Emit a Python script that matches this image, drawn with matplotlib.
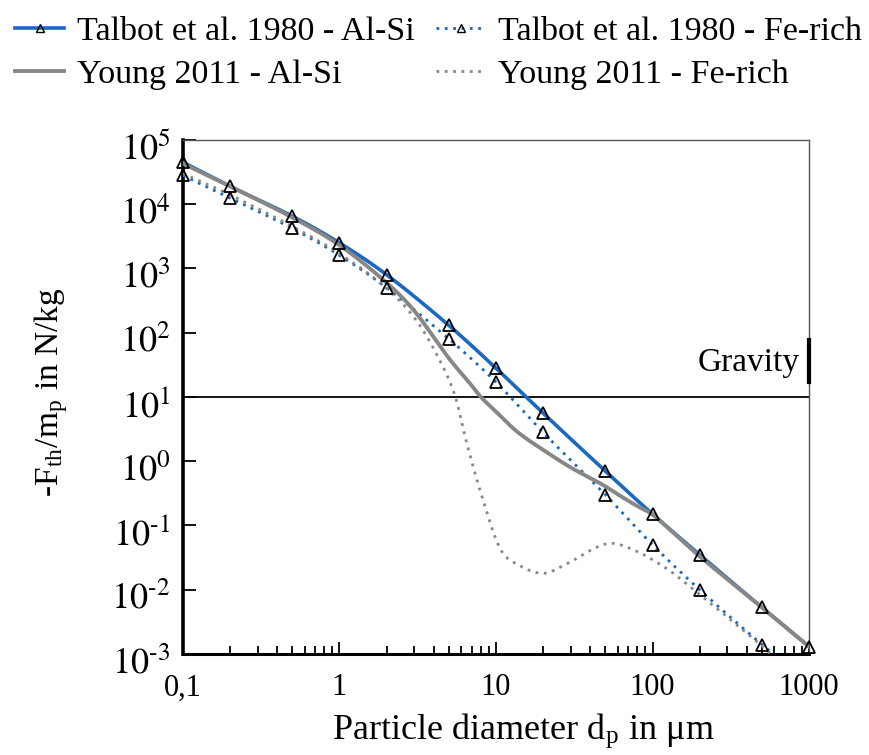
import numpy as np
import matplotlib
matplotlib.use("Agg")
import matplotlib.pyplot as plt
from matplotlib.ticker import FixedLocator, FixedFormatter, LogLocator, NullFormatter
from matplotlib.transforms import ScaledTranslation

plt.rcParams['font.family'] = ['Liberation Serif', 'DejaVu Serif']
plt.rcParams['mathtext.fontset'] = 'stix'

# Talbot et al. 1980 (markers)
d_talbot = [0.1, 0.2, 0.5, 1, 2, 5, 10, 20, 50, 100, 200, 500, 1000]
talbot_alsi = [4.5e4, 1.9e4, 6.5e3, 2.5e3, 8.0e2, 1.3e2, 28, 5.6, 0.70, 0.15, 0.035, 5.3e-3, 1.3e-3]
talbot_fe = [2.8e4, 1.25e4, 4.2e3, 1.6e3, 5.0e2, 80, 17, 2.8, 0.30, 0.05, 0.010, 1.4e-3, 3.5e-4]

# Young 2011 (curves)
d_young_alsi = [0.1, 0.2, 0.5, 1, 2, 3, 5, 7, 8, 10, 13.6, 20, 30, 48, 65, 80, 100, 140, 200, 500, 1000]
young_alsi = [4.3e4, 1.9e4, 6.2e3, 2.3e3, 6.0e2, 2.2e2, 40, 15, 10, 5.9, 2.9, 1.5, 0.8, 0.43, 0.27,
              0.2, 0.148, 0.072, 0.033, 5.3e-3, 1.3e-3]

d_young_fe = [0.1, 0.2, 0.5, 1, 2, 3.1, 4.4, 5.5, 6.5, 8.3, 10.6, 13.6, 20, 28, 51, 75,
              124, 200, 325, 535, 1000]
young_fe = [3.0e4, 1.4e4, 4.5e3, 1.7e3, 4.9e2, 1.55e2, 36, 10, 1.9, 0.24, 0.044, 0.025, 0.018, 0.025, 0.052, 0.042,
            0.021, 8.4e-3, 3.2e-3, 1.15e-3, 2.5e-4]

x_ticks = [0.1, 1, 10, 100, 1000]
x_ticklabels = ['0,1', '1', '10', '100', '1000']
y_ticks = [1e-3, 1e-2, 1e-1, 1e0, 1e1, 1e2, 1e3, 1e4, 1e5]
y_ticklabels = [r'$10^{\text{-}3}$', r'$10^{\text{-}2}$', r'$10^{\text{-}1}$', r'$10^{0}$', r'$10^{1}$',
                r'$10^{2}$', r'$10^{3}$', r'$10^{4}$', r'$10^{5}$']

blue = '#1a68c2'
grey = '#878787'


def smooth(xs, ys, n=500):
    # Catmull-Rom style cubic through the read points, in log-log space
    lx = np.log10(xs)
    ly = np.log10(ys)
    grid = np.linspace(lx[0], lx[-1], n)
    out = []
    for g in grid:
        i = np.searchsorted(lx, g) - 1
        i = min(max(i, 0), len(lx) - 2)
        x1, x2 = lx[i], lx[i + 1]
        p1, p2 = ly[i], ly[i + 1]
        x0 = lx[i - 1] if i > 0 else 2 * x1 - x2
        p0 = ly[i - 1] if i > 0 else 2 * p1 - p2
        x3 = lx[i + 2] if i + 2 < len(lx) else 2 * x2 - x1
        p3 = ly[i + 2] if i + 2 < len(ly) else 2 * p2 - p1
        t = (g - x1) / (x2 - x1)
        m1 = (p2 - p0) / (x2 - x0) * (x2 - x1)
        m2 = (p3 - p1) / (x3 - x1) * (x2 - x1)
        out.append((2 * t**3 - 3 * t**2 + 1) * p1 + (t**3 - 2 * t**2 + t) * m1
                   + (-2 * t**3 + 3 * t**2) * p2 + (t**3 - t**2) * m2)
    return 10**grid, 10**np.array(out)


fig = plt.figure(figsize=(8.7, 7.55), dpi=100)
ax = fig.add_axes([0.2103, 0.1338, 0.7197, 0.6808])

tx, ty = smooth(d_talbot, talbot_alsi)
ex, ey = smooth(d_talbot, talbot_fe)
yx, yy = smooth(d_young_alsi, young_alsi)
fx, fy = smooth(d_young_fe, young_fe)

ax.axhline(10, color='black', lw=1.3, zorder=1)

ax.plot(tx, ty, color=blue, lw=2.6, zorder=3)
ax.plot(ex, ey, color=blue, lw=2.0, ls=(0, (1, 2)), zorder=3)
ax.plot(yx, yy, color=grey, lw=2.8, zorder=4)
ax.plot(fx, fy, color=grey, lw=2.0, ls=(0, (1, 2)), zorder=4)

ax.plot(d_talbot, talbot_alsi, ls='none', marker='^', ms=9, mfc='none', mec='black', mew=1.3,
        zorder=5, clip_on=False)
ax.plot(d_talbot[:-1], talbot_fe[:-1], ls='none', marker='^', ms=9, mfc='none', mec='black', mew=1.3,
        zorder=5, clip_on=False)

ax.set_xscale('log')
ax.set_yscale('log')
ax.set_xlim(0.1, 1000)
ax.set_ylim(1e-3, 1e5)

ax.xaxis.set_major_locator(FixedLocator(x_ticks))
ax.xaxis.set_major_formatter(FixedFormatter(x_ticklabels))
ax.xaxis.set_minor_locator(LogLocator(base=10, subs=np.arange(2, 10)))
ax.xaxis.set_minor_formatter(NullFormatter())
ax.yaxis.set_major_locator(FixedLocator(y_ticks))
ax.yaxis.set_major_formatter(FixedFormatter(y_ticklabels))
ax.yaxis.set_minor_locator(LogLocator(base=10, subs=np.arange(2, 10)))
ax.yaxis.set_minor_formatter(NullFormatter())

ax.tick_params(which='both', direction='in', top=False, right=False, width=1.3)
ax.tick_params(which='major', length=9)
ax.tick_params(which='minor', length=6)
ax.tick_params(axis='x', labelsize=22, pad=14)
ax.tick_params(axis='y', labelsize=26, pad=9)

# y tick labels sit a little below their ticks in the reference
shift = ScaledTranslation(0, -6 / 100, fig.dpi_scale_trans)
for lab in ax.get_yticklabels():
    lab.set_transform(lab.get_transform() + shift)

ax.spines['left'].set_linewidth(2.6)
ax.spines['bottom'].set_linewidth(2.2)
for side in ['top', 'right']:
    ax.spines[side].set_linewidth(1.0)
    ax.spines[side].set_color('#555555')

ax.set_xlabel(r'Particle diameter d$_\mathregular{p}$ in $\mathregular{\mu}$m', fontsize=26, labelpad=0)
ax.xaxis.set_label_coords(0.543, -0.112)
ax.set_ylabel(r'-F$_\mathregular{th}$/m$_\mathregular{p}$ in N/kg', fontsize=24)
ax.yaxis.set_label_coords(-0.18, 0.51)

ax.text(0.985, 10**1.53, 'Gravity', transform=ax.get_yaxis_transform(), ha='right', va='center', fontsize=24)
ax.plot([1, 1], [10**1.23, 10**1.88], transform=ax.get_yaxis_transform(), color='black', lw=3,
        clip_on=False, zorder=6)

# legend
h1, = ax.plot([], [], color=blue, lw=2.6, marker='^', ms=6, mfc='none', mec='black')
h2, = ax.plot([], [], color=blue, lw=2.0, ls=(0, (1, 2)), marker='^', ms=6, mfc='none', mec='black')
h3, = ax.plot([], [], color=grey, lw=2.8)
h4, = ax.plot([], [], color=grey, lw=2.0, ls=(0, (1, 2)))
fig.legend([h1, h3, h2, h4],
           ['Talbot et al. 1980 - Al-Si', 'Young 2011 - Al-Si',
            'Talbot et al. 1980 - Fe-rich', 'Young 2011 - Fe-rich'],
           ncol=2, loc='upper left', bbox_to_anchor=(15 / 870, 1 - 16 / 755), frameon=False,
           fontsize=24.5, handlelength=1.45, handletextpad=0.38, columnspacing=0.62,
           labelspacing=0.36, numpoints=1, borderaxespad=0, borderpad=0)

fig.savefig('out.png', dpi=100)
